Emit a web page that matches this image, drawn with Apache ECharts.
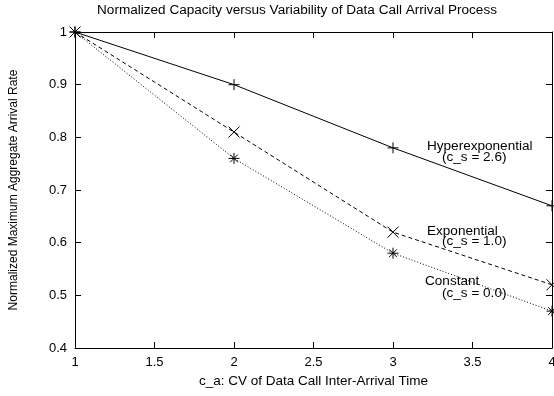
<!DOCTYPE html>
<html>
<head>
<meta charset="utf-8">
<script src="https://cdn.jsdelivr.net/npm/echarts@6/dist/echarts.min.js"></script>
<style>
  html, body { margin: 0; padding: 0; background: #fff; }
  #chart { width: 554px; height: 396px; }
</style>
</head>
<body>
<div id="chart"></div>
<script>
// c_a values (x axis)
const caValues = [1, 2, 3, 4];
const hyperValues = [1.0, 0.90, 0.78, 0.67];
const expoValues = [1.0, 0.81, 0.62, 0.52];
const constValues = [1.0, 0.76, 0.58, 0.47];

const xTicks = [1, 1.5, 2, 2.5, 3, 3.5, 4];
const yTicks = [0.4, 0.5, 0.6, 0.7, 0.8, 0.9, 1];

const FONT = 'Liberation Sans, Arial, sans-serif';
const SX = 1.13; // the reference text is a bit wider than it is tall

// stroke-only marker shapes
const plusPath = 'path://M0,5L10,5M5,0L5,10';
const crossPath = 'path://M0,0L10,10M10,0L0,10';
const starPath = 'path://M0,5L10,5M5,0L5,10M1.5,1.5L8.5,8.5M8.5,1.5L1.5,8.5';

function pairs(ys) {
    return caValues.map((x, i) => [x, ys[i]]);
}

function makeSeries(name, ys, symbol, dash) {
    return {
        name: name,
        type: 'line',
        data: pairs(ys),
        symbol: symbol,
        symbolSize: 11,
        showSymbol: true,
        clip: false,
        silent: true,
        lineStyle: { color: '#000', width: 1, type: dash },
        itemStyle: { color: 'none', borderColor: '#000', borderWidth: 1 },
        z: 3
    };
}

function label(x, y, text) {
    return {
        type: 'text', x: x, y: y, scaleX: SX,
        style: { text: text, font: '12px ' + FONT, fill: '#000', verticalAlign: 'middle' }
    };
}

const chart = echarts.init(document.getElementById('chart'), null, { renderer: 'canvas' });

const tickStyle = { show: true, inside: true, length: 6, lineStyle: { color: '#000', width: 1 } };
const lineStyle = { show: true, lineStyle: { color: '#000', width: 1 } };

chart.setOption({
    animation: false,
    backgroundColor: '#fff',
    grid: { left: 75, right: 2, top: 32, bottom: 48, outerBoundsMode: 'none', containLabel: false },
    xAxis: [{
        type: 'value',
        min: 1, max: 4, interval: 0.5,
        position: 'bottom',
        name: 'c_a: CV of Data Call Inter-Arrival Time',
        nameLocation: 'middle',
        nameGap: 26,
        nameTextStyle: { fontFamily: FONT, fontSize: 13.5, color: '#000' },
        axisLine: lineStyle,
        axisTick: tickStyle,
        splitLine: { show: false },
        axisLabel: {
            fontFamily: FONT, fontSize: 13, color: '#000', margin: 8,
            formatter: v => xTicks.includes(v) ? String(v) : ''
        }
    }, {
        type: 'value',
        min: 1, max: 4, interval: 0.5,
        position: 'top',
        axisLine: lineStyle,
        axisTick: tickStyle,
        splitLine: { show: false },
        axisLabel: { show: false }
    }],
    yAxis: [{
        type: 'value',
        min: 0.4, max: 1, interval: 0.1,
        position: 'left',
        name: 'Normalized Maximum Aggregate Arrival Rate',
        nameLocation: 'middle',
        nameGap: 55,
        nameTextStyle: { fontFamily: FONT, fontSize: 12, color: '#000' },
        axisLine: lineStyle,
        axisTick: tickStyle,
        splitLine: { show: false },
        axisLabel: {
            fontFamily: FONT, fontSize: 13, color: '#000', margin: 8,
            formatter: v => {
                const t = yTicks.find(y => Math.abs(y - v) < 1e-6);
                return t === undefined ? '' : String(t);
            }
        }
    }, {
        type: 'value',
        min: 0.4, max: 1, interval: 0.1,
        position: 'right',
        axisLine: lineStyle,
        axisTick: tickStyle,
        splitLine: { show: false },
        axisLabel: { show: false }
    }],
    series: [
        makeSeries('Hyperexponential', hyperValues, plusPath, 'solid'),
        makeSeries('Exponential', expoValues, crossPath, [4, 3]),
        makeSeries('Constant', constValues, starPath, [1, 2])
    ],
    graphic: [
        {
            type: 'text', x: 297, y: 11, scaleX: SX,
            style: {
                text: 'Normalized Capacity versus Variability of Data Call Arrival Process',
                font: '12px ' + FONT, fill: '#000', align: 'center', verticalAlign: 'middle'
            }
        },
        label(427, 147, 'Hyperexponential'),
        label(442, 158, '(c_s = 2.6)'),
        label(427, 232, 'Exponential'),
        label(442, 242, '(c_s = 1.0)'),
        label(425, 282, 'Constant'),
        label(442, 294, '(c_s = 0.0)')
    ]
});
</script>
</body>
</html>
